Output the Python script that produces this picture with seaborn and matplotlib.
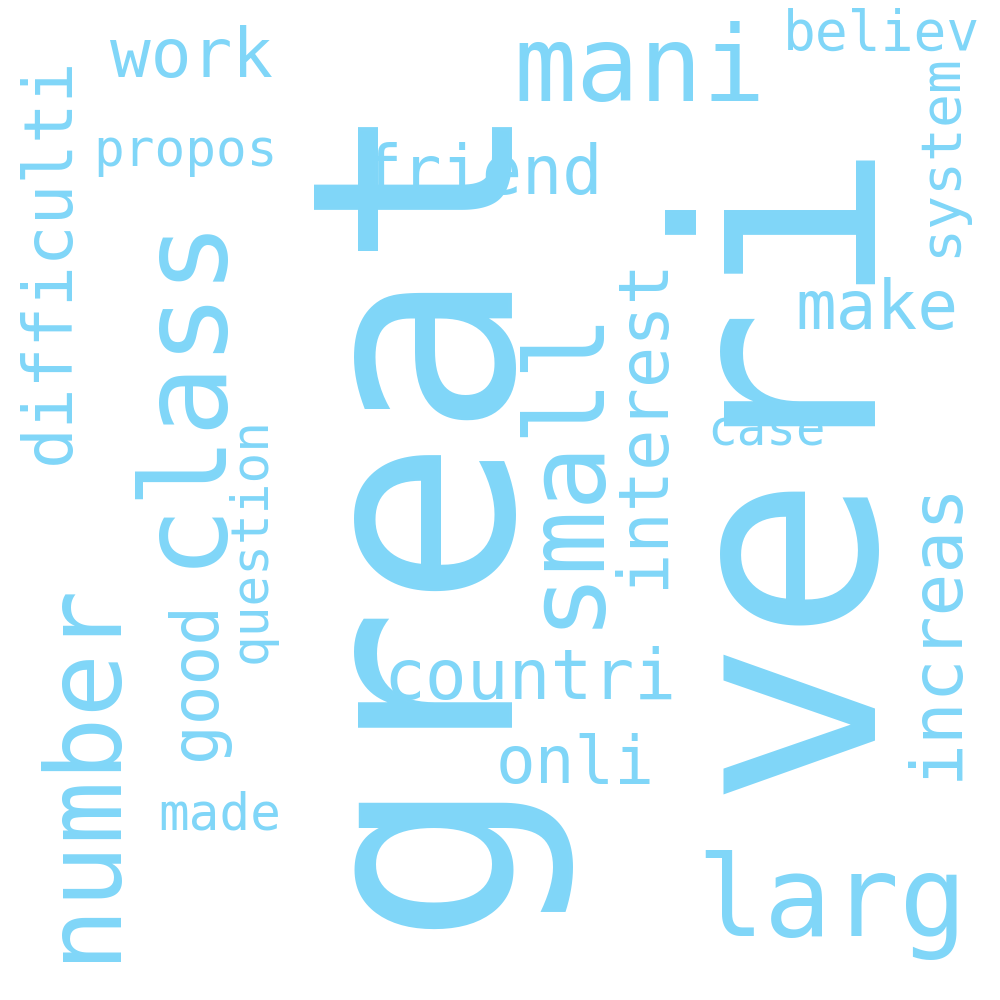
import matplotlib
matplotlib.use("Agg")
import matplotlib.pyplot as plt
import seaborn as sns

sns.set_theme(style="white")
plt.rcParams['font.family'] = ['DejaVu Sans Mono', 'DejaVu Sans']

# words and their relative weight (font size in px)
words = ["great", "veri", "class", "larg", "small", "number", "mani", "countri",
         "increas", "interest", "difficulti", "work", "make", "friend", "good",
         "onli", "system", "believ", "propos", "question", "made", "case"]
sizes = [320, 315, 135, 128, 123, 120, 119, 79,
         81, 78, 77, 77, 77, 76, 75,
         75, 64, 62, 58, 58, 58, 56]

# layout: centre x, centre y (pixels from top-left), rotation
layout = {
    "great": (420, 505, 90), "veri": (785, 460, 90), "class": (183, 388, 90),
    "larg": (832, 905, 0), "small": (563, 465, 90), "number": (83, 770, 90),
    "mani": (640, 72, 0), "countri": (530, 680, 0), "increas": (937, 630, 90),
    "interest": (643, 422, 90), "difficulti": (50, 260, 90), "work": (192, 58, 0),
    "make": (877, 310, 0), "friend": (482, 175, 0), "good": (197, 680, 90),
    "onli": (575, 765, 0), "system": (940, 155, 90), "believ": (882, 35, 0),
    "propos": (185, 152, 0), "question": (252, 540, 90), "made": (220, 815, 0),
    "case": (767, 432, 0),
}

color = "#80d6f8"
scale = 0.72 * 0.88  # px -> pt, DejaVu glyphs run larger than the original font

fig, ax = plt.subplots(figsize=(10, 10), dpi=100)
fig.subplots_adjust(0, 0, 1, 1)
ax.set_xlim(0, 1000)
ax.set_ylim(1000, 0)
ax.axis("off")

for w, s in zip(words, sizes):
    x, y, rot = layout[w]
    ax.text(x, y, w, fontsize=s * scale, color=color, rotation=rot,
            ha="center", va="center")

fig.savefig("out.png", dpi=100, facecolor="white")
